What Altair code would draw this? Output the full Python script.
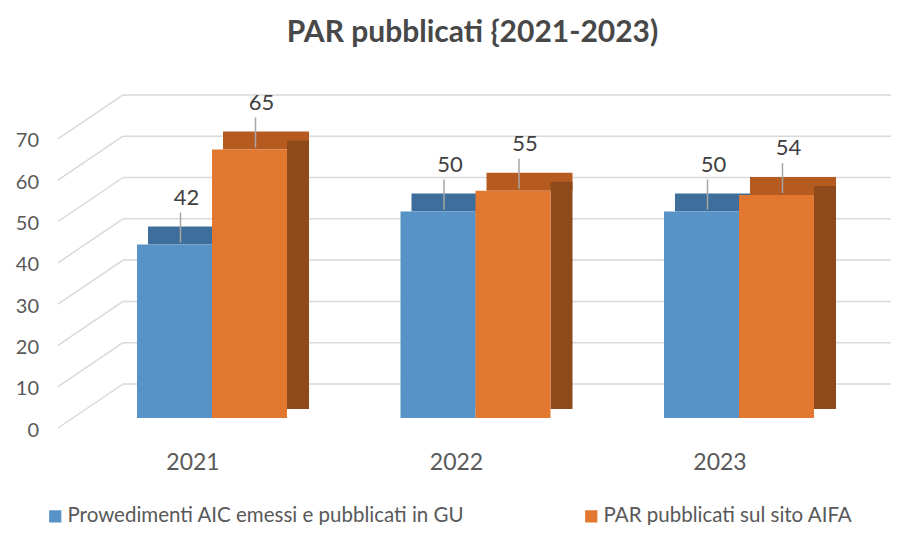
import altair as alt
import pandas as pd

years = ["2021", "2022", "2023"]
series = ["Prowedimenti AIC emessi e pubblicati in GU", "PAR pubblicati sul sito AIFA"]
values_gu = [42, 50, 50]
values_par = [65, 55, 54]
ticks = [0, 10, 20, 30, 40, 50, 60, 70]

rows = []
for i, yr in enumerate(years):
    rows.append({"year": yr, "series": series[0], "value": values_gu[i]})
    rows.append({"year": yr, "series": series[1], "value": values_par[i]})
df = pd.DataFrame(rows)
tick_df = pd.DataFrame({"v": ticks})

FRONT = ["#5893C8", "#E2772F"]
TOP = ["#3E6F9C", "#B55B20"]
SIDE = ["#3A6790", "#8F4A1C"]
FONT = "Lato"
GRID = "#D9D9D9"
BAR_W = 75
SHIFT = [-BAR_W / 2, BAR_W / 2]

yscale = alt.Scale(domain=[0, 70], range=[350, 60.9], nice=False, zero=True)
xscale = alt.Scale(domain=years, range=[72.25, 862.75], paddingInner=0.4307, paddingOuter=0.2154)
x_enc = alt.X("year:N", scale=xscale, axis=None)
y_enc = alt.Y("value:Q", scale=yscale, axis=None)

base_t = alt.Chart(tick_df)
grid = base_t.mark_rule(color=GRID, strokeWidth=1.5, yOffset=-34).encode(
    y=alt.Y("v:Q", scale=yscale, axis=None), x=alt.value(115), x2=alt.value(883))
diag = base_t.mark_rule(color=GRID, strokeWidth=1.5, yOffset=10, y2Offset=-34).encode(
    y=alt.Y("v:Q", scale=yscale, axis=None), y2=alt.Y2("v:Q"), x=alt.value(50), x2=alt.value(115))
ylabels = base_t.mark_text(align="right", baseline="middle", font=FONT, fontSize=20,
                           color="#595959", dy=12.5).encode(
    y=alt.Y("v:Q", scale=yscale, axis=None), x=alt.value(31), text="v:Q")

base = alt.Chart(df)
shadow_layers = []
front_layers = []
label_layers = []
for j, s in enumerate(series):
    b = base.transform_filter(alt.datum.series == s)
    c = SHIFT[j]
    shadow_layers.append(b.mark_tick(size=BAR_W + 11, thickness=18, xOffset=c + 16.5, yOffset=-9,
                                     opacity=1, color=TOP[j]).encode(x=x_enc, y=y_enc))
    shadow_layers.append(b.mark_bar(width=22, xOffset=c + 48.5, yOffset=-9, y2Offset=-9,
                                    color=SIDE[j]).encode(x=x_enc, y=y_enc))
    front_layers.append(b.mark_bar(width=BAR_W, xOffset=c).encode(
        x=x_enc, y=y_enc,
        color=alt.Color("series:N", scale=alt.Scale(domain=series, range=FRONT),
                        legend=alt.Legend(title=None, orient="none", legendX=37, legendY=438,
                                          direction="horizontal", symbolType="square",
                                          symbolSize=150, symbolStrokeWidth=0, labelFont=FONT,
                                          labelFontSize=20.5, labelColor="#595959", labelLimit=700,
                                          columnPadding=116, padding=0, labelOffset=2))))
    label_layers.append(b.mark_rule(color="#A6A6A6", strokeWidth=1.5, xOffset=c + 6, yOffset=-2,
                                    y2Offset=-32).encode(x=x_enc, y=y_enc, y2=alt.Y2("value:Q")))
    label_layers.append(b.mark_text(font=FONT, fontSize=22, color="#404040", xOffset=c + 12,
                                    dy=-47).encode(x=x_enc, y=y_enc, text="value:Q"))

xlabels = base.transform_filter(alt.datum.series == series[0]).mark_text(
    font=FONT, fontSize=23, color="#595959", dx=-19).encode(
    x=x_enc, y=alt.value(395), text="year:N")

chart = alt.layer(grid, diag, ylabels, *shadow_layers, *front_layers, *label_layers, xlabels).properties(
    width=883, height=457,
    autosize=alt.AutoSizeParams(type="none"),
    padding={"top": 60, "left": 0, "right": 0, "bottom": 0},
    title=alt.Title("PAR pubblicati {2021-2023)", font=FONT, fontSize=30, fontWeight="bold",
                    color="#484848", anchor="middle", dx=23, offset=20),
).configure_view(stroke=None)

chart.save("out.html", embed_options={"renderer": "svg", "actions": False})
